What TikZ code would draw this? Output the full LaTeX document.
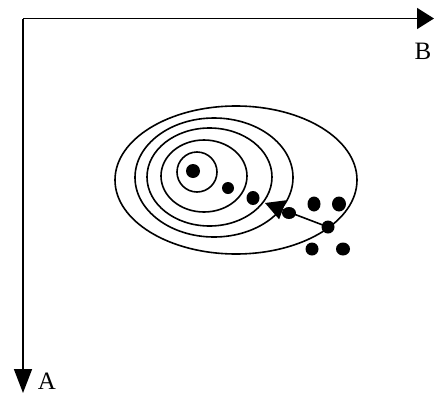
\documentclass[tikz,border=0pt]{standalone}
\usepackage{fontspec}
\setmainfont{Liberation Serif}
\usetikzlibrary{shapes.geometric,arrows.meta}
\tikzset{
  ring/.style={draw, ellipse, line width=1.6pt, inner sep=0pt},
  dot/.style={fill, ellipse, inner sep=0pt, minimum width=12pt, minimum height=13pt},
  axis/.style={line width=1.6pt},
  lbl/.style={font=\fontsize{25}{28}\selectfont, inner sep=0pt}
}
\begin{document}
\begin{tikzpicture}[x=1pt,y=-1pt]
\useasboundingbox (0,0) rectangle (434,394);
% axes
\coordinate (O) at (23,18.5);
\coordinate (Bend) at (434,18.5);
\coordinate (Aend) at (23,393);
\draw[axis, -{Triangle[length=17pt,width=21pt]}] (O) -- (Bend);
\draw[axis, -{Triangle[length=24pt,width=18pt]}] (O) -- (Aend);
\node[lbl] (B) at (423,51) {B};
\node[lbl] (A) at (47,381) {A};
% ellipses
\node[ring, minimum width=242pt, minimum height=148pt] (e1) at (236,180) {};
\node[ring, minimum width=158pt, minimum height=119pt] (e2) at (214,177.5) {};
\node[ring, minimum width=125pt, minimum height=98pt] (e3) at (209.5,177) {};
\node[ring, minimum width=86pt, minimum height=72pt] (e4) at (204,176) {};
\node[ring, minimum width=40pt, minimum height=40pt] (e5) at (197,172) {};
% dots
\node[dot, minimum width=14pt, minimum height=14pt] (d1) at (193,171) {};
\node[dot, minimum width=12pt, minimum height=12pt] (d2) at (228,188) {};
\node[dot, minimum width=13pt, minimum height=14pt] (d3) at (253,198) {};
\node[dot, minimum width=14pt, minimum height=12pt] (d4) at (289,213) {};
\node[dot, minimum width=13pt, minimum height=15pt] (d5) at (314,204) {};
\node[dot, minimum width=14pt, minimum height=15pt] (d6) at (339,204) {};
\node[dot, minimum width=13pt, minimum height=13pt] (d7) at (328,227) {};
\node[dot, minimum width=13pt, minimum height=13pt] (d8) at (312,249) {};
\node[dot, minimum width=14pt, minimum height=13pt] (d9) at (343,249) {};
% arrow
\coordinate (tip) at (265,203);
\draw[line width=1.6pt, -{Triangle[length=19pt,width=20pt]}] (d7.center) -- (tip);
\end{tikzpicture}
\end{document}
